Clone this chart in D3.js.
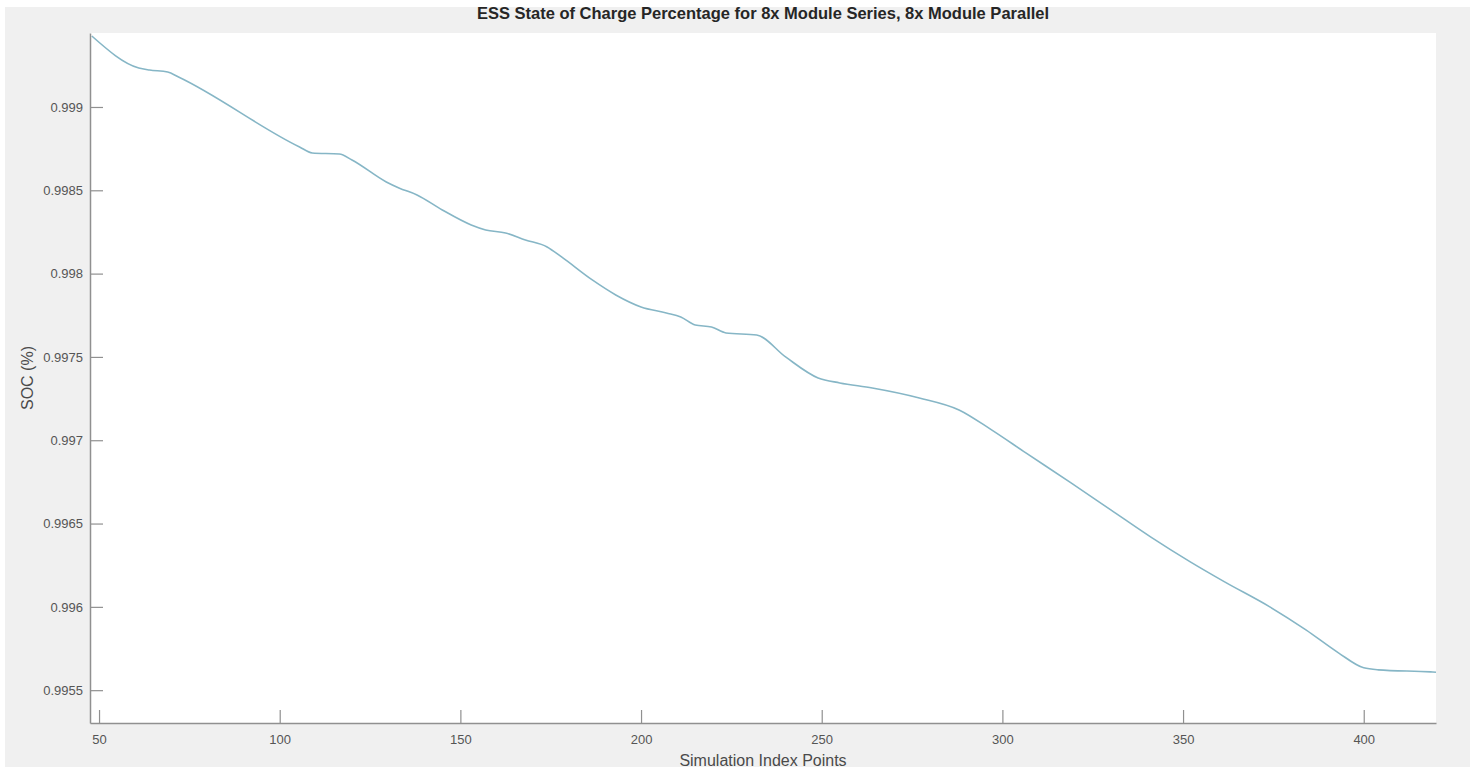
<!DOCTYPE html>
<html>
<head>
<meta charset="utf-8">
<script src="https://cdn.jsdelivr.net/npm/d3@7"></script>
<style>
  html, body { margin: 0; padding: 0; background: #ffffff; }
  svg { display: block; }
</style>
</head>
<body>
<svg id="chart" width="1480" height="771"></svg>
<script>
// ---- data ----
const simIndex = [48, 61, 64, 69, 72, 105.5, 109, 116.5, 120, 129.5, 133, 138, 145, 153, 157, 162.5, 168, 174, 178, 186.5, 193, 200, 207, 211, 215, 219.5, 223.5, 232, 240, 249, 255, 264, 277, 288, 297, 306.5, 319, 330, 341, 352, 361.5, 374, 384, 393, 400, 404, 418.5, 420];
const socValues = [0.999426, 0.999234, 0.999222, 0.999210, 0.999180, 0.998760, 0.998724, 0.998718, 0.998682, 0.998550, 0.998514, 0.998472, 0.998382, 0.998292, 0.998262, 0.998244, 0.998202, 0.998160, 0.998100, 0.997962, 0.997872, 0.997800, 0.997764, 0.997740, 0.997692, 0.997680, 0.997644, 0.997632, 0.997500, 0.997374, 0.997344, 0.997314, 0.997254, 0.997182, 0.997062, 0.996924, 0.996744, 0.996582, 0.996420, 0.996270, 0.996150, 0.996000, 0.995862, 0.995724, 0.995634, 0.995622, 0.995610, 0.995608];
const xTicks = [50, 100, 150, 200, 250, 300, 350, 400];
const yTicks = [0.9955, 0.996, 0.9965, 0.997, 0.9975, 0.998, 0.9985, 0.999];
const yTickLabels = ["0.9955", "0.996", "0.9965", "0.997", "0.9975", "0.998", "0.9985", "0.999"];
const xDomain = [47.5, 420];
const yDomain = [0.995303, 0.999444];
const titleText = "ESS State of Charge Percentage for 8x Module Series, 8x Module Parallel";
const xLabel = "Simulation Index Points";
const yLabel = "SOC (%)";

// ---- layout ----
const svg = d3.select("#chart");
const plot = { left: 90, right: 1436, top: 33, bottom: 723 };
const font = "'Liberation Sans', Arial, sans-serif";

// figure background
svg.append("rect").attr("x", 5).attr("y", 7).attr("width", 1465).attr("height", 760).attr("fill", "#f0f0f0");
// axes background
svg.append("rect").attr("x", plot.left).attr("y", plot.top)
  .attr("width", plot.right - plot.left).attr("height", plot.bottom - plot.top).attr("fill", "#ffffff");

const x = d3.scaleLinear().domain(xDomain).range([plot.left, plot.right]);
const y = d3.scaleLinear().domain(yDomain).range([plot.bottom, plot.top]);

const data = simIndex.map((d, i) => ({ x: d, y: socValues[i] }));

// line
const line = d3.line().x(d => x(d.x)).y(d => y(d.y)).curve(d3.curveMonotoneX);
svg.append("path").datum(data).attr("d", line)
  .attr("fill", "none").attr("stroke", "#86b6c6").attr("stroke-width", 1.6);

// x axis
const xAxis = d3.axisBottom(x).tickValues(xTicks).tickSizeInner(-13).tickSizeOuter(0).tickPadding(21)
  .tickFormat(d3.format("d"));
const gx = svg.append("g").attr("transform", `translate(0,${plot.bottom})`).call(xAxis);
// y axis
const yAxis = d3.axisLeft(y).tickValues(yTicks).tickSizeInner(-13).tickSizeOuter(0).tickPadding(21)
  .tickFormat((d, i) => yTickLabels[i]);
const gy = svg.append("g").attr("transform", `translate(${plot.left},0)`).call(yAxis);

[gx, gy].forEach(g => {
  g.select(".domain").attr("stroke", "#909090").attr("stroke-width", 1.5);
  g.selectAll(".tick line").attr("stroke", "#909090").attr("stroke-width", 1.2);
  g.selectAll(".tick text").attr("fill", "#555").style("font-family", font).style("font-size", "13px");
});
gy.selectAll(".tick text").attr("x", -7);
gx.selectAll(".tick text").attr("y", 12);

// title
svg.append("text").attr("x", (plot.left + plot.right) / 2).attr("y", 19)
  .attr("text-anchor", "middle").style("font-family", font).style("font-size", "16.5px")
  .style("font-weight", "bold").attr("fill", "#262626").text(titleText);

// x label
svg.append("text").attr("x", (plot.left + plot.right) / 2).attr("y", 766)
  .attr("text-anchor", "middle").style("font-family", font).style("font-size", "16px")
  .attr("fill", "#4a4a4a").text(xLabel);

// y label
svg.append("text").attr("transform", `translate(33,${(plot.top + plot.bottom) / 2}) rotate(-90)`)
  .attr("text-anchor", "middle").style("font-family", font).style("font-size", "16px")
  .attr("fill", "#4a4a4a").text(yLabel);
</script>
</body>
</html>
